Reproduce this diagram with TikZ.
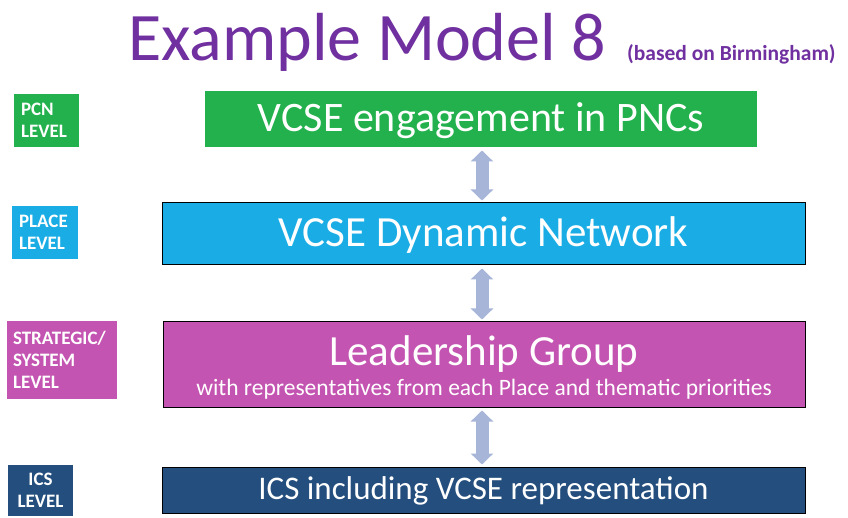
\documentclass[tikz,border=0pt]{standalone}
\usepackage{fontspec}
\setmainfont{Carlito}
\usetikzlibrary{arrows.meta}
\definecolor{titlec}{HTML}{7030A0}
\definecolor{greenc}{HTML}{22B14C}
\definecolor{bluec}{HTML}{1AADE5}
\definecolor{magc}{HTML}{C454B1}
\definecolor{darkc}{HTML}{244E7D}
\definecolor{arrc}{HTML}{A7B5D9}
\tikzset{
  mainbox/.style={draw=black, line width=1pt, text=white, align=center, inner sep=0pt},
  lvl/.style={text=white, font=\bfseries\fontsize{19}{22}\selectfont, inner xsep=7pt, inner ysep=0pt, align=left},
  link/.style={arrc, line width=13pt, {Triangle[width=22pt,length=11pt]}-{Triangle[width=22pt,length=11pt]}, shorten <=3pt, shorten >=2pt}
}
\begin{document}
\begin{tikzpicture}[x=1pt,y=-1pt]
\useasboundingbox (0,0) rectangle (848,518);
\fill[white] (0,0) rectangle (848,518);
\node[anchor=base west, inner sep=0pt, text=titlec, font=\fontsize{68}{72}\selectfont] (title) at (128,61) {Example Model 8};
\node[anchor=base west, inner sep=0pt, text=titlec, font=\bfseries\fontsize{21.5}{24}\selectfont] (sub) at (627,61) {(based on Birmingham)};

\node[mainbox, draw=none, fill=greenc, minimum width=552pt, minimum height=56pt] (g) at (481,119) {};
\node[anchor=base, text=white, inner sep=0pt, font=\fontsize{42}{44}\selectfont] (gt) at ([yshift=-13pt]g.center) {VCSE engagement in PNCs};
\node[mainbox, fill=bluec, minimum width=643pt, minimum height=62pt] (b) at (483.5,234) {};
\node[anchor=base, text=white, inner sep=0pt, font=\fontsize{43}{44}\selectfont] (bt) at ([yshift=-13pt]b.center) {VCSE Dynamic Network};
\node[mainbox, fill=magc, minimum width=642pt, minimum height=85pt] (m) at (484,364.5) {};
\node[anchor=base, text=white, inner sep=0pt, font=\fontsize{43}{44}\selectfont] (mt) at ([yshift=-1pt]m.center) {Leadership Group};
\node[anchor=base, text=white, inner sep=0pt, font=\fontsize{23.5}{26}\selectfont] (ms) at ([yshift=-31pt]m.center) {with representatives from each Place and thematic priorities};
\node[mainbox, fill=darkc, minimum width=643pt, minimum height=46pt] (d) at (483.5,490) {};
\node[anchor=base, text=white, inner sep=0pt, font=\fontsize{33}{36}\selectfont] (dt) at ([yshift=-9pt]d.center) {ICS including VCSE representation};

\coordinate (ax) at (482,0);
\draw[link] (g.south -| ax) -- (b.north -| ax);
\draw[link] (b.south -| ax) -- (m.north -| ax);
\draw[link] (m.south -| ax) -- (d.north -| ax);

\node[lvl, fill=greenc, minimum width=65pt, minimum height=53pt, text width=51pt] (l1) at (46.5,120.5) {PCN\\LEVEL};
\node[lvl, fill=bluec, minimum width=66pt, minimum height=53pt, text width=52pt] (l2) at (45,232.5) {PLACE\\LEVEL};
\node[lvl, fill=magc, minimum width=110pt, minimum height=78pt, text width=98pt, inner xsep=6pt] (l3) at (62,360) {STRATEGIC/\\SYSTEM\\LEVEL};
\node[lvl, fill=darkc, minimum width=65pt, minimum height=51pt, text width=51pt, align=center] (l4) at (40.5,490) {ICS\\LEVEL};
\end{tikzpicture}
\end{document}
